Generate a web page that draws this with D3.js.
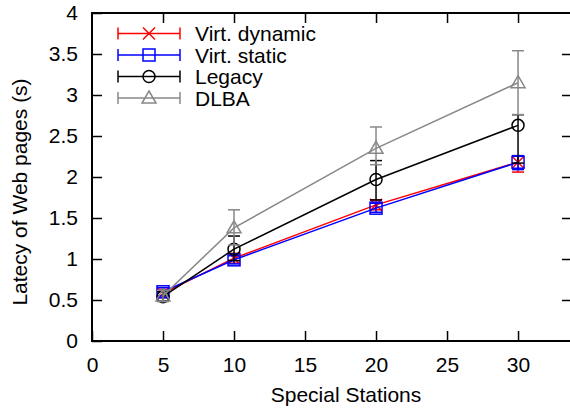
<!DOCTYPE html>
<html>
<head>
<meta charset="utf-8">
<script src="https://cdn.jsdelivr.net/npm/d3@7"></script>
<style>
  body { margin: 0; background: #fff; }
  text { font-family: "Liberation Sans", Arial, sans-serif; }
</style>
</head>
<body>
<svg id="chart"></svg>
<script>
// データ
const stations = [5, 10, 20, 30];
const virtDynamic = [0.58, 1.01, 1.66, 2.18];
const virtDynamicLo = [0.53, 0.95, 1.60, 2.06];
const virtDynamicHi = [0.63, 1.07, 1.72, 2.26];
const virtStatic = [0.60, 0.99, 1.62, 2.18];
const virtStaticLo = [0.55, 0.94, 1.57, 2.09];
const virtStaticHi = [0.65, 1.04, 1.68, 2.26];
const legacy = [0.54, 1.12, 1.97, 2.63];
const legacyLo = [0.49, 0.98, 1.72, 2.17];
const legacyHi = [0.60, 1.28, 2.20, 2.76];
const dlba = [0.55, 1.38, 2.35, 3.15];
const dlbaLo = [0.48, 1.17, 2.15, 2.76];
const dlbaHi = [0.62, 1.60, 2.61, 3.54];
const xTicks = [0, 5, 10, 15, 20, 25, 30];
const yTicks = [0, 0.5, 1, 1.5, 2, 2.5, 3, 3.5, 4];

const series = [
  { name: "Virt. dynamic", y: virtDynamic, lo: virtDynamicLo, hi: virtDynamicHi, color: "#ff0000", marker: "x" },
  { name: "Virt. static", y: virtStatic, lo: virtStaticLo, hi: virtStaticHi, color: "#0000ff", marker: "square" },
  { name: "Legacy", y: legacy, lo: legacyLo, hi: legacyHi, color: "#000000", marker: "circle" },
  { name: "DLBA", y: dlba, lo: dlbaLo, hi: dlbaHi, color: "#888888", marker: "triangle" }
];

// 表示サイズ
const width = 570, height = 409;
const plotLeft = 92, plotRight = 572, plotTop = 13, plotBottom = 341;
const fontSize = 21;

const svg = d3.select("#chart").attr("width", width).attr("height", height);

const x = d3.scaleLinear().domain([0, 33.8]).range([plotLeft, plotRight]);
const y = d3.scaleLinear().domain([0, 4]).range([plotBottom, plotTop]);

// 目盛り (内向き)
svg.append("g").attr("transform", "translate(0," + plotBottom + ")")
  .call(d3.axisBottom(x).tickValues(xTicks).tickSizeInner(-10).tickSizeOuter(0).tickPadding(16))
  .call(g => g.select(".domain").remove());
svg.append("g").attr("transform", "translate(0," + plotTop + ")")
  .call(d3.axisTop(x).tickValues(xTicks.slice(1)).tickSizeInner(-10).tickSizeOuter(0).tickFormat(""))
  .call(g => g.select(".domain").remove());
svg.append("g").attr("transform", "translate(" + plotLeft + ",0)")
  .call(d3.axisLeft(y).tickValues(yTicks).tickSizeInner(-10).tickSizeOuter(0).tickPadding(14).tickFormat(d3.format("")))
  .call(g => g.select(".domain").remove());
svg.append("g").attr("transform", "translate(" + plotRight + ",0)")
  .call(d3.axisRight(y).tickValues(yTicks.slice(1, -1)).tickSizeInner(-10).tickSizeOuter(0).tickFormat(""))
  .call(g => g.select(".domain").remove());

svg.selectAll(".tick line").attr("stroke", "#000").attr("stroke-width", 1.5);
svg.selectAll(".tick text").attr("font-size", fontSize).attr("fill", "#000")
  .attr("font-family", "Liberation Sans, Arial, sans-serif");

svg.append("rect")
  .attr("x", plotLeft).attr("y", plotTop)
  .attr("width", plotRight - plotLeft).attr("height", plotBottom - plotTop)
  .attr("fill", "none").attr("stroke", "#000").attr("stroke-width", 2);

// 軸ラベル
svg.append("text")
  .attr("x", 346).attr("y", 402)
  .attr("text-anchor", "middle").attr("font-size", fontSize)
  .text("Special Stations");
svg.append("text")
  .attr("transform", "translate(27,192) rotate(-90)")
  .attr("text-anchor", "middle").attr("font-size", fontSize)
  .text("Latecy of Web pages (s)");

function drawMarker(g, type, cx, cy, color) {
  const s = 6;
  if (type === "x") {
    g.append("path").attr("d", `M${cx - s},${cy - s}L${cx + s},${cy + s}M${cx - s},${cy + s}L${cx + s},${cy - s}`)
      .attr("stroke", color).attr("stroke-width", 1.5).attr("fill", "none");
  } else if (type === "square") {
    g.append("rect").attr("x", cx - s).attr("y", cy - s).attr("width", 2 * s).attr("height", 2 * s)
      .attr("stroke", color).attr("stroke-width", 1.5).attr("fill", "none");
  } else if (type === "circle") {
    g.append("circle").attr("cx", cx).attr("cy", cy).attr("r", s)
      .attr("stroke", color).attr("stroke-width", 1.5).attr("fill", "none");
  } else {
    g.append("path").attr("d", `M${cx},${cy - s - 1}L${cx + s + 1},${cy + s - 1}L${cx - s - 1},${cy + s - 1}Z`)
      .attr("stroke", color).attr("stroke-width", 1.5).attr("fill", "none");
  }
}

const line = d3.line().x(d => x(d[0])).y(d => y(d[1]));

series.forEach(s => {
  const g = svg.append("g");
  const pts = stations.map((st, i) => [st, s.y[i]]);
  g.append("path").datum(pts).attr("d", line)
    .attr("fill", "none").attr("stroke", s.color).attr("stroke-width", 1.5);
  stations.forEach((st, i) => {
    const cx = x(st);
    g.append("line").attr("x1", cx).attr("x2", cx).attr("y1", y(s.lo[i])).attr("y2", y(s.hi[i]))
      .attr("stroke", s.color).attr("stroke-width", 1.5);
    [s.lo[i], s.hi[i]].forEach(v => {
      g.append("line").attr("x1", cx - 6).attr("x2", cx + 6).attr("y1", y(v)).attr("y2", y(v))
        .attr("stroke", s.color).attr("stroke-width", 1.5);
    });
    drawMarker(g, s.marker, cx, y(s.y[i]), s.color);
  });
});

// 凡例
const legend = svg.append("g");
series.forEach((s, i) => {
  const ly = 33.5 + i * 21.5;
  legend.append("line").attr("x1", 118).attr("x2", 180).attr("y1", ly).attr("y2", ly)
    .attr("stroke", s.color).attr("stroke-width", 1.5);
  [118, 180].forEach(xx => {
    legend.append("line").attr("x1", xx).attr("x2", xx).attr("y1", ly - 6).attr("y2", ly + 6)
      .attr("stroke", s.color).attr("stroke-width", 1.5);
  });
  drawMarker(legend, s.marker, 149, ly, s.color);
  legend.append("text").attr("x", 195).attr("y", ly + 7.5).attr("font-size", fontSize).text(s.name);
});
</script>
</body>
</html>
